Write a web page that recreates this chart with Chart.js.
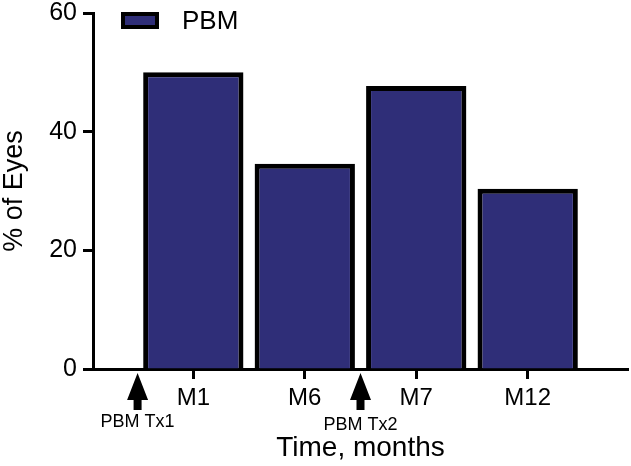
<!DOCTYPE html>
<html>
<head>
<meta charset="utf-8">
<script src="https://cdn.jsdelivr.net/npm/chart.js@4"></script>
<style>
  html, body { margin: 0; padding: 0; background: #fff; }
  #wrap { width: 631px; height: 466px; }
</style>
</head>
<body>
<div id="wrap"><canvas id="chart" width="631" height="466"></canvas></div>
<script>
// data
const timepoints = ["M1", "M6", "M7", "M12"];
const percentEyes = [50, 34.6, 47.7, 30.4];
const yTicks = [0, 20, 40, 60];
// treatments given just before M1 and M7 (between category slots)
const treatmentAt = [0.5, 2.5];
const treatmentLabels = ["PBM Tx1", "PBM Tx2"];

const FONT = "'Liberation Sans', Arial, Helvetica, sans-serif";
const barColor = "#2f2e78";

// legend drawn inside the plot, top left
const legendInside = {
  id: "legendInside",
  afterDraw(chart) {
    const ctx = chart.ctx;
    const area = chart.chartArea;
    const ds = chart.data.datasets[0];
    const x = area.left + 28, y = area.top - 1;
    ctx.save();
    ctx.fillStyle = ds.backgroundColor;
    ctx.fillRect(x, y, 38, 17);
    ctx.lineWidth = 4;
    ctx.strokeStyle = ds.borderColor;
    ctx.strokeRect(x + 2, y + 2, 34, 13);
    ctx.fillStyle = "#000";
    ctx.font = "26px " + FONT;
    ctx.textBaseline = "middle";
    ctx.fillText(ds.label, x + 61, y + 10);
    ctx.restore();
  }
};

// arrows under the x axis marking the treatments
const treatmentArrows = {
  id: "treatmentArrows",
  afterDraw(chart) {
    const ctx = chart.ctx;
    const xs = chart.scales.x;
    const base = chart.chartArea.bottom;
    const dy = [0, 3];
    ctx.save();
    ctx.fillStyle = "#000";
    treatmentAt.forEach((v, i) => {
      const px = xs.getPixelForValue(v);
      ctx.beginPath();
      ctx.moveTo(px, base + 4);
      ctx.lineTo(px + 10.5, base + 31);
      ctx.lineTo(px + 4, base + 31);
      ctx.lineTo(px + 4, base + 41);
      ctx.lineTo(px - 4, base + 41);
      ctx.lineTo(px - 4, base + 31);
      ctx.lineTo(px - 10.5, base + 31);
      ctx.closePath();
      ctx.fill();
      ctx.font = "18px " + FONT;
      ctx.textAlign = "center";
      ctx.textBaseline = "alphabetic";
      ctx.fillText(treatmentLabels[i], px, base + 58 + dy[i]);
    });
    ctx.restore();
  }
};

new Chart(document.getElementById("chart"), {
  type: "bar",
  data: {
    datasets: [{
      label: "PBM",
      data: percentEyes.map((v, i) => ({ x: i + 1, y: v })),
      backgroundColor: barColor,
      borderColor: "#000",
      borderWidth: 5,
      barPercentage: 0.9,
      categoryPercentage: 1
    }]
  },
  options: {
    responsive: false,
    animation: false,
    layout: { padding: { top: 13, right: 3, left: 0, bottom: 0 } },
    plugins: {
      legend: { display: false },
      tooltip: { enabled: false }
    },
    scales: {
      x: {
        type: "linear",
        min: 0.1,
        max: 4.9,
        offset: false,
        afterFit(scale) { scale.height = 97; },
        afterBuildTicks(scale) {
          scale.ticks = timepoints.map((t, i) => ({ value: i + 1 }));
        },
        border: { display: true, color: "#000", width: 3 },
        grid: {
          offset: false,
          drawOnChartArea: false,
          drawTicks: true,
          color: "#000",
          tickColor: "#000",
          tickLength: 10,
          tickWidth: 3
        },
        ticks: {
          color: "#000",
          font: { family: FONT, size: 24, lineHeight: 1 },
          padding: 7,
          callback: (v) => timepoints[v - 1]
        },
        title: {
          display: true,
          text: "Time, months",
          color: "#000",
          font: { family: FONT, size: 28, lineHeight: 1 },
          padding: { top: 0, bottom: 4 }
        }
      },
      y: {
        min: 0,
        max: 60,
        afterFit(scale) {
          scale.width = 93;
          // top label may overhang, keep plot top at the layout padding
          scale.paddingTop = 0;
          scale.paddingBottom = 0;
        },
        afterBuildTicks(scale) {
          scale.ticks = yTicks.map((v) => ({ value: v }));
        },
        border: { display: true, color: "#000", width: 3 },
        grid: { drawOnChartArea: false, color: "#000", tickColor: "#000", tickLength: 10, tickWidth: 3 },
        ticks: {
          color: "#000",
          font: { family: FONT, size: 25, lineHeight: 1 },
          padding: 6
        },
        title: {
          display: true,
          text: "% of Eyes",
          color: "#000",
          font: { family: FONT, size: 27, lineHeight: 1 },
          padding: { top: 1, bottom: 0 }
        }
      }
    }
  },
  plugins: [legendInside, treatmentArrows]
});
</script>
</body>
</html>
